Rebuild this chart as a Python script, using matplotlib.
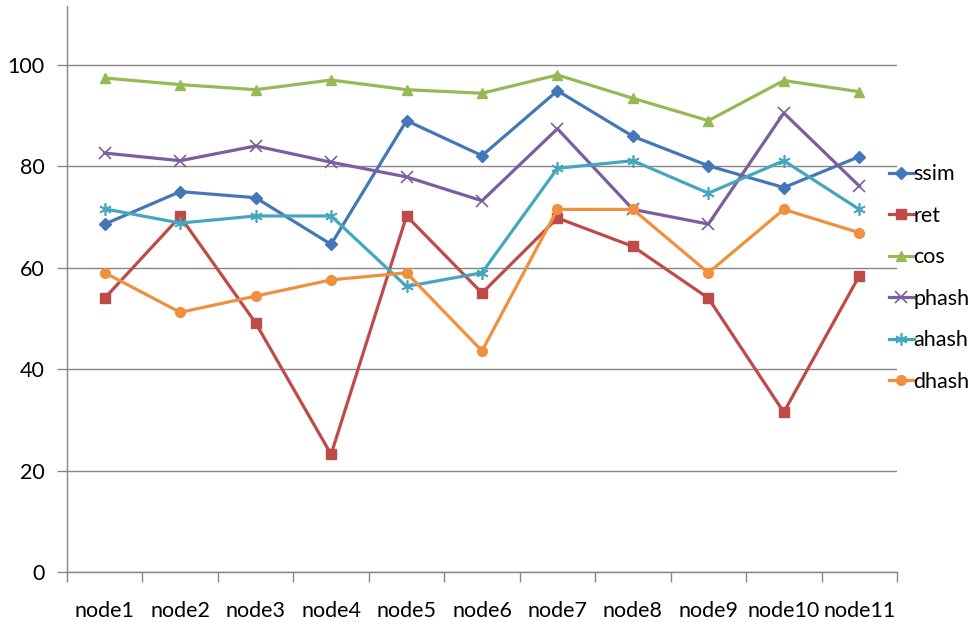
import matplotlib.pyplot as plt
import numpy as np

nodes = ["node1", "node2", "node3", "node4", "node5", "node6",
         "node7", "node8", "node9", "node10", "node11"]

ssim = [68.6, 75.0, 73.8, 64.6, 89.0, 82.1, 94.9, 85.9, 80.1, 75.8, 81.9]
ret = [54.0, 70.1, 49.1, 23.2, 70.2, 55.0, 69.8, 64.2, 54.0, 31.5, 58.4]
cos = [97.4, 96.1, 95.1, 97.0, 95.1, 94.4, 98.0, 93.4, 89.0, 96.9, 94.7]
phash = [82.6, 81.1, 84.0, 80.8, 77.9, 73.2, 87.4, 71.5, 68.6, 90.5, 76.1]
ahash = [71.6, 68.8, 70.2, 70.2, 56.3, 59.0, 79.6, 81.1, 74.7, 81.1, 71.5]
dhash = [59.0, 51.2, 54.4, 57.6, 59.0, 43.6, 71.5, 71.5, 59.0, 71.5, 66.9]

yticks = [0, 20, 40, 60, 80, 100]

plt.rcParams['font.family'] = ['Lato', 'DejaVu Sans']
fs = 15.5

fig = plt.figure(figsize=(9.78, 6.22), dpi=100)
ax = fig.add_axes([67 / 978, 1 - 572 / 622, 830 / 978, 566 / 622])

x = np.arange(len(nodes))
series = [
    ("ssim", ssim, "#4477B8", "D", 6),
    ("ret", ret, "#BE4B48", "s", 7),
    ("cos", cos, "#94B955", "^", 7),
    ("phash", phash, "#7A5E9E", "x", 8),
    ("ahash", ahash, "#45A7BF", (6, 2, 0), 9),
    ("dhash", dhash, "#F0903C", "o", 7),
]
for name, vals, color, mk, ms in series:
    ax.plot(x, vals, color=color, marker=mk, markersize=ms, linewidth=2.3,
            markeredgewidth=1.2 if mk in ("x", (6, 2, 0)) else 1,
            label=name)

ax.set_xlim(-0.5, len(nodes) - 0.5)
ax.set_ylim(0, 111.6)

# category labels sit between the boundary ticks
ax.set_xticks(x)
ax.set_xticklabels(nodes, fontsize=fs)
ax.set_xticks(np.arange(len(nodes) + 1) - 0.5, minor=True)
ax.tick_params(axis="x", which="major", length=0, pad=21)
ax.tick_params(axis="x", which="minor", length=7, color="#868686", width=1)

ax.set_yticks(yticks)
ax.set_yticklabels([str(v) for v in yticks], fontsize=fs)
ax.tick_params(axis="y", length=7, color="#868686", width=1, pad=9)

ax.grid(axis="y", color="#868686", linewidth=1)
ax.set_axisbelow(True)
for side in ("top", "right"):
    ax.spines[side].set_visible(False)
for side in ("left", "bottom"):
    ax.spines[side].set_color("#868686")
    ax.spines[side].set_linewidth(1)

fig.legend(loc="center left", bbox_to_anchor=(878 / 978, 1 - 278 / 622),
           frameon=False, fontsize=fs, handlelength=1.15, handletextpad=0.0,
           labelspacing=1.0, borderpad=0)

fig.savefig("out.png", dpi=100)
